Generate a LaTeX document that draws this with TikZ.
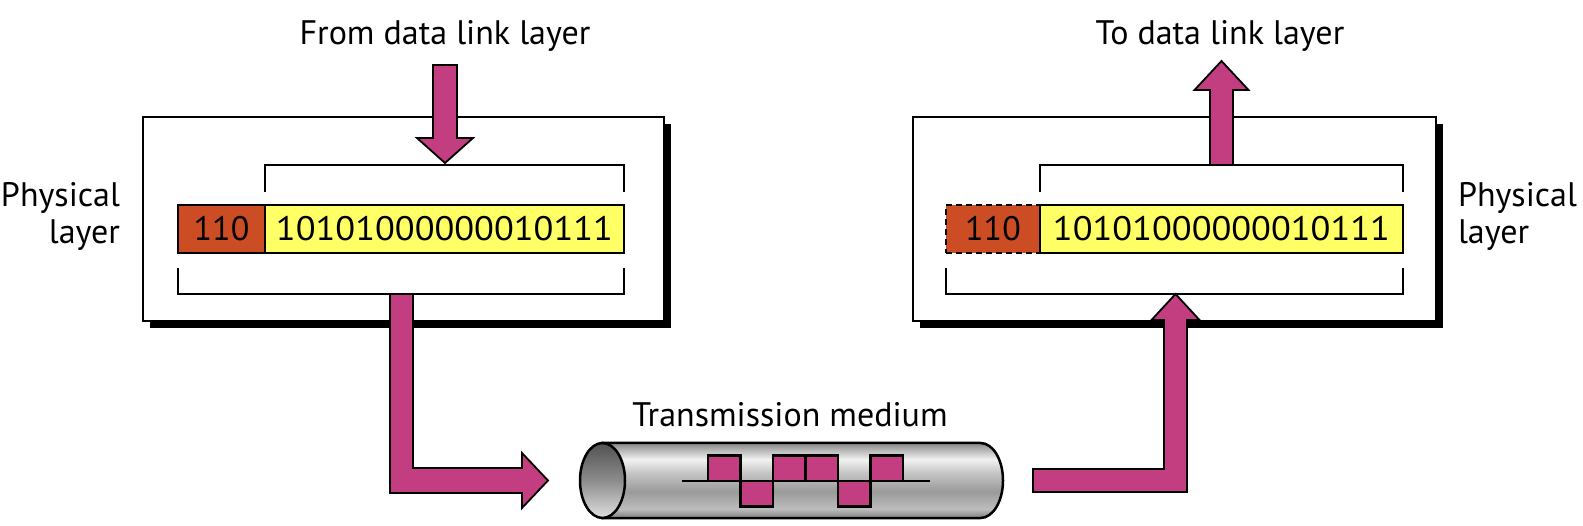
\documentclass[tikz,border=0pt]{standalone}
\usepackage{fontspec}
\usepackage{graphicx}
\setmainfont{PT Sans}
\usetikzlibrary{calc,shadows}
\definecolor{mag}{RGB}{194,62,128}
\definecolor{hdrred}{RGB}{204,76,36}
\definecolor{datyel}{RGB}{255,255,102}
\definecolor{tA}{HTML}{7E7E7E}
\definecolor{tB}{HTML}{BDBDBD}
\definecolor{tC}{HTML}{9A9A9A}
\definecolor{tD}{HTML}{C4C4C4}
\definecolor{tE}{HTML}{F2F2F2}
\definecolor{tF}{HTML}{B0B0B0}
\definecolor{tG}{HTML}{888888}
\pgfdeclareverticalshading{tube}{100bp}{color(0bp)=(tA); color(25bp)=(tA); color(31bp)=(tB); color(42.5bp)=(tC); color(55bp)=(tD); color(64bp)=(tE); color(71bp)=(tF); color(75bp)=(tG); color(100bp)=(tG)}
\newcommand{\digs}[1]{\scalebox{1.07}[1]{#1}}
\begin{document}
\begin{tikzpicture}[x=1pt,y=-1pt,
  every node/.style={inner sep=0pt, outer sep=0pt},
  lbl/.style={font=\fontsize{34}{40}\selectfont},
  layerbox/.style={draw=black, line width=2.5pt, fill=white,
     minimum height=204pt,
     drop shadow={fill=black, opacity=1, shadow xshift=7pt, shadow yshift=-7pt}},
  hdr/.style={fill=hdrred, draw=black, line width=2.2pt, minimum height=48pt, font=\fontsize{34}{40}\selectfont},
  hdrdash/.style={fill=hdrred, draw=black, line width=2.4pt, dash pattern=on 6pt off 4pt, minimum height=48pt, font=\fontsize{34}{40}\selectfont},
  dat/.style={fill=datyel, draw=black, line width=2.2pt, minimum height=48pt, font=\fontsize{34}{40}\selectfont},
  brk/.style={draw=black, line width=2.6pt, line join=miter},
  fatarrow/.style={fill=mag, draw=black, line width=1.8pt, line join=miter},
  bit/.style={fill=mag, draw=black, line width=2.2pt},
  sig/.style={draw=black, line width=2.6pt}]
\useasboundingbox (0,0) rectangle (1583,526);

% ---------- labels ----------
\node[lbl, anchor=base] (fromdl) at (445,45) {From data link layer};
\node[lbl, anchor=base] (todl) at (1220,45) {To data link layer};
\node[lbl, anchor=base east] (physL) at (120,207) {Physical};
\node[lbl, anchor=base east] (layL) at (120,244) {layer};
\node[lbl, anchor=base west] (physR) at (1458,207) {Physical};
\node[lbl, anchor=base west] (layR) at (1458,244) {layer};
\node[lbl, anchor=base] (medium) at (790,427) {Transmission medium};

% ---------- layer boxes ----------
\node[layerbox, minimum width=521pt] (boxL) at (403.5,219) {};
\node[layerbox, minimum width=523pt] (boxR) at (1174.5,219) {};

% ---------- sender frame ----------
\node[hdr, minimum width=87pt] (hL) at (221.5,229) {110};
\node[dat, minimum width=359pt] (dL) at (444.5,229) {\digs{10101000000010111}};
\draw[brk] ($(dL.north west)+(0,-13)$) -- ($(dL.north west)+(0,-40)$)
  -- ($(dL.north east)+(0,-40)$) -- ($(dL.north east)+(0,-13)$);
\draw[brk] ($(hL.south west)+(0,15)$) -- ($(hL.south west)+(0,41)$)
  -- ($(dL.south east)+(0,41)$) -- ($(dL.south east)+(0,15)$);

% ---------- receiver frame ----------
\node[hdrdash, minimum width=94pt] (hR) at (993,229) {110};
\node[dat, minimum width=363pt] (dR) at (1221.5,229) {\digs{10101000000010111}};
\draw[brk] ($(dR.north west)+(0,-13)$) -- ($(dR.north west)+(0,-40)$)
  -- ($(dR.north east)+(0,-40)$) -- ($(dR.north east)+(0,-13)$);
\draw[brk] ($(hR.south west)+(0,15)$) -- ($(hR.south west)+(0,41)$)
  -- ($(dR.south east)+(0,41)$) -- ($(dR.south east)+(0,15)$);

% ---------- transmission medium ----------
\shadedraw[shading=tube, draw=black, line width=2.5pt]
  (602.5,443) -- (980.5,443) arc[start angle=-90, end angle=90, x radius=22.5, y radius=37.5]
  -- (602.5,518) -- cycle;
\shadedraw[draw=black, line width=2.5pt, top color=black!68, bottom color=black!12, middle color=black!45]
  (602.5,480.5) ellipse[x radius=22.5, y radius=37.5];
\foreach \x/\d in {708/-1, 740.5/1, 773/-1, 805.5/-1, 838/1, 870.5/-1}
  \filldraw[bit] (\x,481) rectangle ++(32.5,\d*25.5);
\draw[sig] (682,481) -- (930,481);

% ---------- arrows ----------
\coordinate (a1s) at (445,65);
\coordinate (a1t) at ($(dL.north)+(0.5,-42)$);
\draw[fatarrow] ($(a1s)+(-12,0)$) -- ($(a1t)+(-12,-25)$) -- ($(a1t)+(-28,-25)$) -- (a1t)
  -- ($(a1t)+(28,-25)$) -- ($(a1t)+(12,-25)$) -- ($(a1s)+(12,0)$) -- cycle;

\coordinate (a2s) at (401.5,294);
\coordinate (a2t) at (548,480.5);
\draw[fatarrow] ($(a2s)+(-11.5,0)$) |- ($(a2t)+(-26,12.5)$) -- ($(a2t)+(-26,27.5)$) -- (a2t)
  -- ($(a2t)+(-26,-27.5)$) -- ($(a2t)+(-26,-12.5)$) -| ($(a2s)+(11.5,0)$) -- cycle;

\coordinate (a3s) at (1033,480.5);
\coordinate (a3t) at (1175.5,294);
\draw[fatarrow] ($(a3s)+(0,-11.5)$) -| ($(a3t)+(-11.5,26)$) -- ($(a3t)+(-24,26)$) -- (a3t)
  -- ($(a3t)+(24,26)$) -- ($(a3t)+(11.5,26)$) |- ($(a3s)+(0,11.5)$) -- cycle;

\coordinate (a4s) at (1221.5,165);
\coordinate (a4t) at (1221.5,61);
\draw[fatarrow] ($(a4s)+(-11.5,0)$) -- ($(a4t)+(-11.5,29)$) -- ($(a4t)+(-27,29)$) -- (a4t)
  -- ($(a4t)+(27,29)$) -- ($(a4t)+(11.5,29)$) -- ($(a4s)+(11.5,0)$) -- cycle;
\end{tikzpicture}
\end{document}
